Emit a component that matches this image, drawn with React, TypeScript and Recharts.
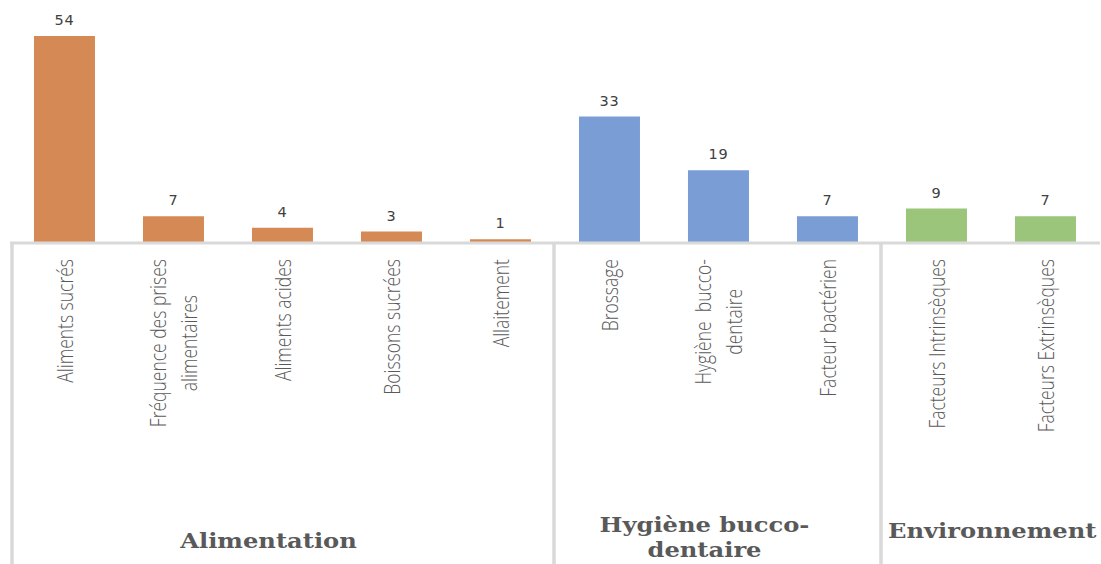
import { BarChart, Bar, XAxis, YAxis, Cell, LabelList } from "recharts"

const categories = [
  "Aliments sucrés",
  "Fréquence des prises\nalimentaires",
  "Aliments acides",
  "Boissons sucrées",
  "Allaitement",
  "Brossage",
  "Hygiène  bucco-\ndentaire",
  "Facteur bactérien",
  "Facteurs Intrinsèques",
  "Facteurs Extrinsèques",
]
const values = [54, 7, 4, 3, 1, 33, 19, 7, 9, 7]
const groupOf = [0, 0, 0, 0, 0, 1, 1, 1, 2, 2]
const groupNames = ["Alimentation", "Hygiène bucco-\ndentaire", "Environnement"]
const groupColors = ["#D58A55", "#7B9DD5", "#9BC57B"]

const data = categories.map((name, i) => ({ name, value: values[i], group: groupOf[i] }))

// layout / style
const LINE = "#D9D9D9"
const TEXT = "#595959"
const CAT_FONT = "'Open Sans', sans-serif"
const CAT_SIZE = 17.5
const CAT_STRETCH = 1.25
const GROUP_FONT = "'DejaVu Serif', serif"
const GROUP_SIZE = 20.5
const GROUP_STRETCH = 1.18
const groupBaseline = [305, 289, 295] // below the axis line

let ctx: CanvasRenderingContext2D | null = null
function textWidth(text: string, font: string) {
  if (!ctx) ctx = document.createElement("canvas").getContext("2d")
  if (!ctx) return text.length * 9
  ctx.font = font
  return ctx.measureText(text).width
}

function CategoryTick(props: any) {
  const { x, y, payload } = props
  const index = payload.index ?? props.index
  const half = payload.offset || 54.5
  const step = half * 2
  const lines = String(payload.value).split("\n")
  const font = `300 ${CAT_SIZE}px ${CAT_FONT}`
  const blockLen = Math.max(...lines.map((l) => textWidth(l, font)))
  const mid = y + 16 + blockLen / 2
  const gap = 31

  const g = groupOf[index]
  const isFirst = index === 0 || groupOf[index - 1] !== g
  let groupPart = null
  if (isFirst) {
    const left = x - half
    const lineX = index === 0 ? left + 2 : left - 1
    const count = groupOf.filter((v) => v === g).length
    const gLines = groupNames[g].split("\n")
    const gw = Math.max(...gLines.map((l) => textWidth(l, `bold ${GROUP_SIZE}px ${GROUP_FONT}`))) * GROUP_STRETCH
    const cx = Math.max(left + (count * step) / 2 - 14, left + 6 + gw / 2)
    groupPart = (
      <g>
        <line x1={lineX} x2={lineX} y1={y} y2={y + 340} stroke={LINE} strokeWidth={3.5} />
        {gLines.map((l, i) => (
          <g key={i} transform={`translate(${cx},${y + groupBaseline[g] + i * 25}) scale(${GROUP_STRETCH},1)`}>
            <text textAnchor="middle" fontFamily={GROUP_FONT} fontWeight="bold" fontSize={GROUP_SIZE} fill={TEXT}>
              {l}
            </text>
          </g>
        ))}
      </g>
    )
  }

  return (
    <g>
      {lines.map((l, i) => (
        <g
          key={i}
          transform={`translate(${x + (i - (lines.length - 1) / 2) * gap},${mid}) rotate(-90) scale(1,${CAT_STRETCH})`}
        >
          <text
            textAnchor="middle"
            dominantBaseline="central"
            fontFamily={CAT_FONT}
            fontWeight={300}
            fontSize={CAT_SIZE}
            fill={TEXT}
            style={{ whiteSpace: "pre" }}
          >
            {l}
          </text>
        </g>
      ))}
      {groupPart}
    </g>
  )
}

export default function App() {
  return (
    <div style={{ position: "absolute", left: 0, top: 0, width: 1101, height: 564, background: "#fff" }}>
      <BarChart
        width={1101}
        height={564}
        data={data}
        margin={{ top: 36, right: 1, bottom: 0, left: 10 }}
        barCategoryGap="22%"
      >
        <XAxis
          dataKey="name"
          interval={0}
          height={321}
          tickLine={false}
          tickSize={0}
          tickMargin={0}
          axisLine={{ stroke: LINE, strokeWidth: 3 }}
          tick={CategoryTick}
        />
        <YAxis hide domain={[0, 54]} />
        <Bar dataKey="value" isAnimationActive={false}>
          {data.map((d, i) => (
            <Cell key={i} fill={groupColors[d.group]} />
          ))}
          <LabelList
            dataKey="value"
            position="top"
            offset={11}
            fill="#404040"
            fontSize={14.5}
            letterSpacing={0.8}
            fontFamily="'DejaVu Sans', sans-serif"
          />
        </Bar>
      </BarChart>
    </div>
  )
}
